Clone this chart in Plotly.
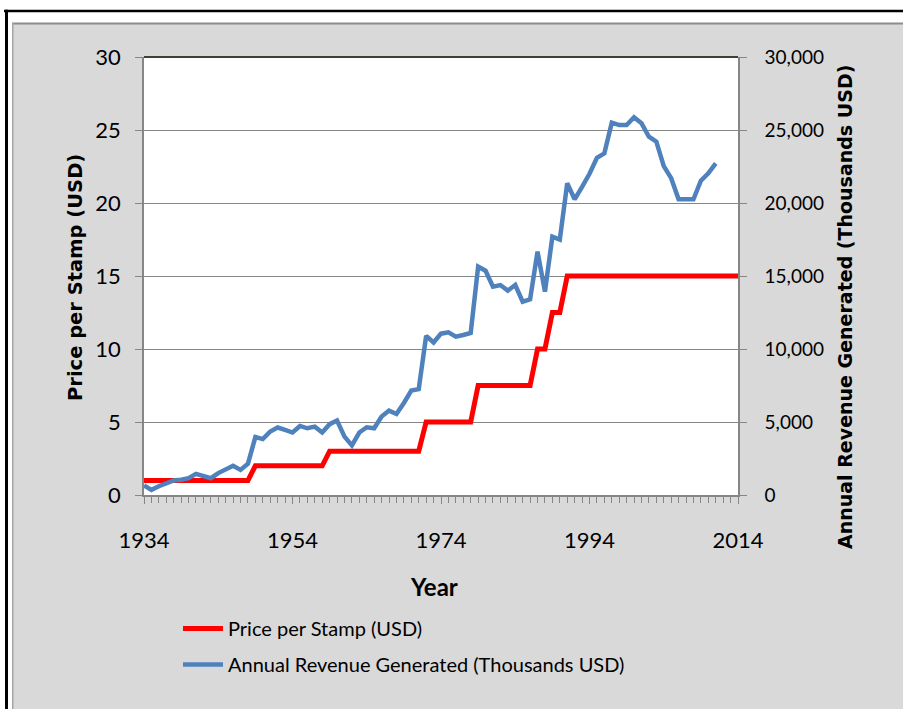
import plotly.graph_objects as go

# ---------------- data ----------------
years = list(range(1934, 2015))

price_per_stamp = [
    1, 1, 1, 1, 1, 1, 1, 1, 1, 1, 1, 1, 1, 1, 1,          # 1934-1948
    2, 2, 2, 2, 2, 2, 2, 2, 2, 2,                         # 1949-1958
    3, 3, 3, 3, 3, 3, 3, 3, 3, 3, 3, 3, 3,                # 1959-1971
    5, 5, 5, 5, 5, 5, 5,                                  # 1972-1978
    7.5, 7.5, 7.5, 7.5, 7.5, 7.5, 7.5, 7.5,               # 1979-1986
    10, 10,                                               # 1987-1988
    12.5, 12.5,                                           # 1989-1990
    15, 15, 15, 15, 15, 15, 15, 15, 15, 15, 15, 15,       # 1991-2002
    15, 15, 15, 15, 15, 15, 15, 15, 15, 15, 15, 15,       # 2003-2014
]

revenue_years = list(range(1934, 2012))
revenue_thousands = [
    650, 350, 600, 770, 1000, 1050, 1150, 1450, 1300, 1150,        # 1934-1943
    1500, 1720, 2000, 1720, 2150, 3970, 3830, 4350, 4620, 4460,    # 1944-1953
    4280, 4730, 4570, 4680, 4280, 4850, 5100, 4000, 3400, 4280,    # 1954-1963
    4640, 4570, 5370, 5780, 5550, 6300, 7150, 7250, 10900, 10450,  # 1964-1973
    11050, 11140, 10850, 10960, 11100, 15640, 15360, 14270, 14380, 14000,  # 1974-1983
    14380, 13240, 13400, 16670, 13930, 17700, 17500, 21350, 20250, 21100,  # 1984-1993
    22000, 23100, 23400, 25500, 25340, 25340, 25870, 25460, 24540, 24200,  # 1994-2003
    22530, 21700, 20250, 20250, 20250, 21530, 22030, 22720,                # 2004-2011
]

x_tick_vals = [1934, 1954, 1974, 1994, 2014]

# ---------------- geometry (pixel -> paper, paper = whole figure) ----------------
W, H = 903, 709
L, R, T, B = 144, 738, 57, 495


def px(x):
    return x / W


def py(y):
    return 1 - y / H


GRID = "#868686"

fig = go.Figure()
fig.add_trace(go.Scatter(
    x=years, y=price_per_stamp, mode="lines", name="Price per Stamp (USD)",
    line=dict(color="#ff0000", width=5), yaxis="y", legendgroup="a",
))
fig.add_trace(go.Scatter(
    x=revenue_years, y=revenue_thousands, mode="lines",
    name="Annual Revenue Generated (Thousands USD)",
    line=dict(color="#4f81bd", width=4.5), yaxis="y2", legendgroup="b",
))

tick_font = dict(family="Lato", size=22, color="black")

fig.update_layout(
    width=W, height=H,
    margin=dict(l=0, r=0, t=0, b=0, pad=0, autoexpand=False),
    paper_bgcolor="#d9d9d9", plot_bgcolor="white",
    xaxis=dict(
        domain=[px(L), px(R)],
        range=[1934, 2014], tickvals=x_tick_vals, ticks="outside", ticklen=7,
        tickcolor=GRID, showline=True, linecolor=GRID, linewidth=1.5,
        showgrid=False, zeroline=False, tickfont=tick_font, ticklabelstandoff=18,
        minor=dict(dtick=1, tick0=1934, ticks="outside", ticklen=6,
                   tickcolor=GRID, showgrid=False),
    ),
    yaxis=dict(
        domain=[py(B), py(T)],
        range=[0, 30], dtick=5, ticks="outside", ticklen=7, tickcolor=GRID,
        showline=True, linecolor=GRID, linewidth=1.5, showgrid=True,
        gridcolor=GRID, gridwidth=1.3, zeroline=False, tickfont=tick_font,
        ticklabelstandoff=10,
    ),
    yaxis2=dict(
        range=[0, 30000], dtick=5000, tickformat=",", overlaying="y", side="right",
        ticks="outside", ticklen=7, tickcolor=GRID, showline=True,
        linecolor=GRID, linewidth=1.5, showgrid=False, zeroline=False,
        tickfont=dict(family="Lato", size=19, color="black"), ticklabelstandoff=14,
    ),
    showlegend=True,
    legend=dict(
        x=px(178), y=py(609), xanchor="left", yanchor="top",
        bgcolor="rgba(0,0,0,0)", font=dict(family="Lato", size=20, color="black"),
        tracegroupgap=7, itemwidth=40,
    ),
    annotations=[
        dict(text="Price per Stamp (USD)", x=px(75), y=py(278), xref="paper",
             yref="paper", textangle=-90, showarrow=False, xanchor="center",
             yanchor="middle",
             font=dict(family="DejaVu Sans", size=19.5, color="black", weight="bold")),
        dict(text="Annual Revenue Generated (Thousands USD)", x=px(845), y=py(307),
             xref="paper", yref="paper", textangle=-90, showarrow=False,
             xanchor="center", yanchor="middle",
             font=dict(family="DejaVu Sans", size=19, color="black", weight="bold")),
        dict(text="Year", x=px(434), y=py(586), xref="paper", yref="paper",
             showarrow=False, xanchor="center", yanchor="middle",
             font=dict(family="Lato", size=24, color="black", weight="bold")),
    ],
    shapes=[
        # white strips outside the grey chart area
        dict(type="rect", xref="paper", yref="paper", x0=0, x1=1,
             y0=py(23), y1=1, fillcolor="white", line=dict(width=0), layer="below"),
        dict(type="rect", xref="paper", yref="paper", x0=0, x1=px(12),
             y0=0, y1=1, fillcolor="white", line=dict(width=0), layer="below"),
        # grey chart-area border
        dict(type="rect", xref="paper", yref="paper", x0=px(12), x1=1,
             y0=py(24.5), y1=py(22.5), fillcolor="#8c8c8c", line=dict(width=0)),
        dict(type="rect", xref="paper", yref="paper", x0=px(12), x1=px(13.5),
             y0=0, y1=py(23), fillcolor="#a6a6a6", line=dict(width=0)),
        # black outer frame (top and left)
        dict(type="rect", xref="paper", yref="paper", x0=px(4), x1=1,
             y0=py(12.3), y1=py(9.8), fillcolor="black", line=dict(width=0)),
        dict(type="rect", xref="paper", yref="paper", x0=px(5), x1=px(8),
             y0=0, y1=py(9.8), fillcolor="black", line=dict(width=0)),
        # dark top edge of plot area
        dict(type="line", xref="paper", yref="paper", x0=px(L), x1=px(R),
             y0=py(T), y1=py(T), line=dict(color="#404030", width=2), layer="below"),
    ],
)

fig.write_html(
    "out.html",
    config={"displayModeBar": False},
    post_script="document.body.style.margin='0px';document.body.style.overflow='hidden';",
)
